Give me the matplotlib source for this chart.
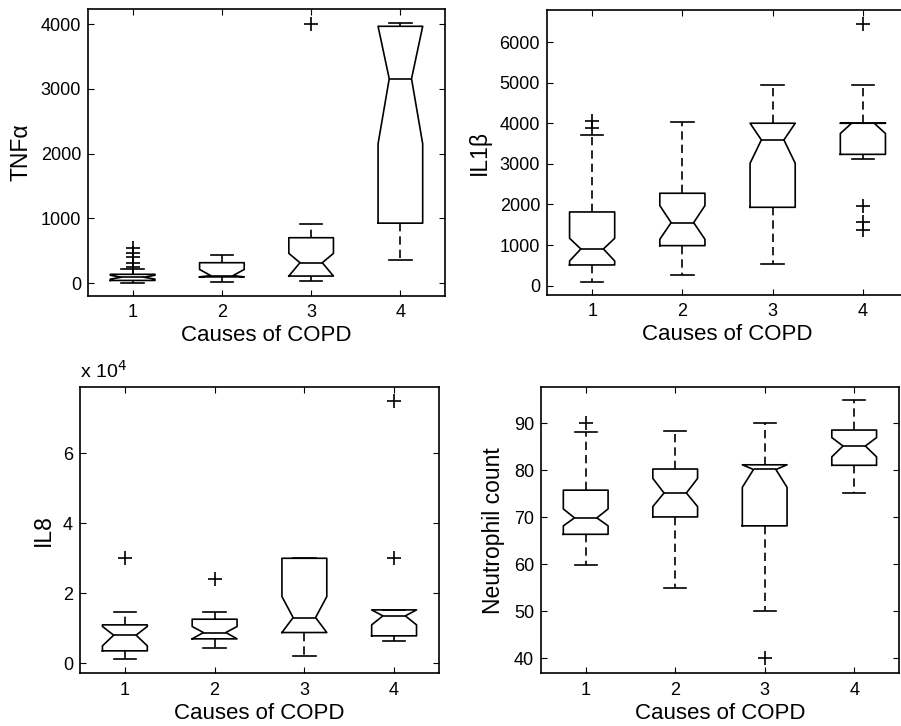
import matplotlib
matplotlib.use('Agg')
import matplotlib.pyplot as plt
from matplotlib.ticker import FuncFormatter

plt.rcParams['font.family'] = ['Liberation Sans', 'DejaVu Sans']

categories = [1, 2, 3, 4]
x_label = 'Causes of COPD'

# ---- TNF alpha ----
tnf_whislo = [5, 15, 36, 350]
tnf_q1 = [40, 95, 108, 925]
tnf_cilo = [60, 95, 108, 2150]
tnf_med = [90, 115, 314, 3155]
tnf_cihi = [120, 210, 458, 3965]
tnf_q3 = [135, 314, 700, 3965]
tnf_whishi = [210, 432, 911, 4010]
tnf_fliers = [[250, 310, 400, 470, 540], [], [3995], []]

# ---- IL1 beta ----
il1_whislo = [99, 263, 526, 3113]
il1_q1 = [510, 986, 1931, 3236]
il1_cilo = [608, 1142, 3016, 3750]
il1_med = [904, 1553, 3592, 4003]
il1_cihi = [1167, 1973, 4003, 4003]
il1_q3 = [1816, 2277, 4003, 4003]
il1_whishi = [3715, 4027, 4948, 4948]
il1_fliers = [[3880, 4050], [], [], [6452, 1972, 1578, 1372]]

# ---- IL8 ----
il8_whislo = [1143, 4286, 2095, 6476]
il8_q1 = [3524, 6952, 8762, 7810]
il8_cilo = [4952, 6952, 8762, 10952]
il8_med = [8000, 8762, 13048, 13524]
il8_cihi = [10500, 10476, 19048, 15238]
il8_q3 = [10952, 12571, 30000, 15238]
il8_whishi = [14571, 14762, 30000, 15238]
il8_fliers = [[30095], [24000], [], [75048, 30095]]

# ---- Neutrophil count ----
neu_whislo = [59.9, 54.9, 50.1, 75.1]
neu_q1 = [66.4, 70.1, 68.2, 81.1]
neu_cilo = [68.2, 72.3, 76.4, 82.9]
neu_med = [69.9, 75.2, 80.2, 85.2]
neu_cihi = [71.8, 78.3, 81.2, 87.0]
neu_q3 = [75.8, 80.3, 81.2, 88.6]
neu_whishi = [88.2, 88.4, 90.2, 95.1]
neu_fliers = [[90.1], [], [40.1], []]


def make_stats(whislo, q1, cilo, med, cihi, q3, whishi, fliers):
    return [dict(whislo=a, q1=b, cilo=c, med=d, cihi=e, q3=f, whishi=g, fliers=h)
            for a, b, c, d, e, f, g, h in zip(whislo, q1, cilo, med, cihi, q3, whishi, fliers)]


panels = [
    dict(stats=make_stats(tnf_whislo, tnf_q1, tnf_cilo, tnf_med, tnf_cihi, tnf_q3, tnf_whishi, tnf_fliers),
         ylabel='TNFα', ylim=(-200, 4232), yticks=[0, 1000, 2000, 3000, 4000],
         rect=[0.0977, 0.5923, 0.3962, 0.3953], scale=None),
    dict(stats=make_stats(il1_whislo, il1_q1, il1_cilo, il1_med, il1_cihi, il1_q3, il1_whishi, il1_fliers),
         ylabel='IL1β', ylim=(-230, 6795), yticks=[0, 1000, 2000, 3000, 4000, 5000, 6000],
         rect=[0.6071, 0.5937, 0.4007, 0.3926], scale=None),
    dict(stats=make_stats(il8_whislo, il8_q1, il8_cilo, il8_med, il8_cihi, il8_q3, il8_whishi, il8_fliers),
         ylabel='IL8', ylim=(-2900, 78900), yticks=[0, 20000, 40000, 60000],
         rect=[0.0888, 0.0726, 0.3984, 0.3939], scale=1e4),
    dict(stats=make_stats(neu_whislo, neu_q1, neu_cilo, neu_med, neu_cihi, neu_q3, neu_whishi, neu_fliers),
         ylabel='Neutrophil count', ylim=(36.8, 97.7), yticks=[40, 50, 60, 70, 80, 90],
         rect=[0.6004, 0.0726, 0.3973, 0.3939], scale=None),
]

fig = plt.figure(figsize=(9.01, 7.26), dpi=100)
lw = 1.2
for p in panels:
    ax = fig.add_axes(p['rect'])
    ax.bxp(p['stats'], positions=categories, widths=0.5, shownotches=True,
           boxprops=dict(color='black', linewidth=lw),
           whiskerprops=dict(color='black', linewidth=lw, linestyle=(0, (5, 3))),
           capprops=dict(color='black', linewidth=lw),
           medianprops=dict(color='black', linewidth=lw),
           flierprops=dict(marker='+', markersize=10, markeredgecolor='black',
                           markeredgewidth=1.2, linestyle='none'))
    ax.set_xlim(0.5, 4.5)
    ax.set_ylim(*p['ylim'])
    ax.set_xticks(categories)
    ax.set_xticklabels([str(c) for c in categories])
    ax.set_yticks(p['yticks'])
    if p['scale']:
        s = p['scale']
        ax.yaxis.set_major_formatter(FuncFormatter(lambda v, pos, s=s: f'{v / s:g}'))
        ax.text(0.0, 1.02, 'x 10$^4$', transform=ax.transAxes, fontsize=14,
                ha='left', va='bottom')
    ax.tick_params(direction='in', top=True, right=True, length=4, width=0.8,
                   labelsize=13, pad=5)
    ax.tick_params(axis='x', pad=6)
    for sp in ax.spines.values():
        sp.set_linewidth(1.2)
    ax.set_xlabel(x_label, fontsize=16, labelpad=3)
    ax.set_ylabel(p['ylabel'], fontsize=16.5, labelpad=6)

fig.savefig('out.png', dpi=100)
